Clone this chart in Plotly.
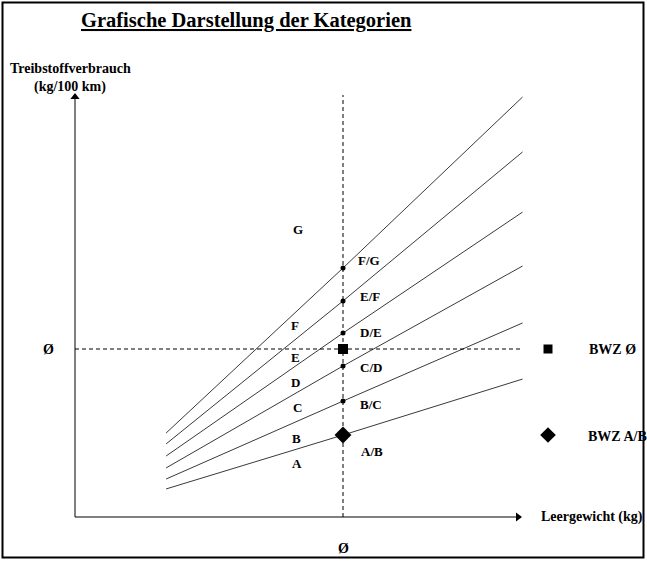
import plotly.graph_objects as go

# ---- data (abstract index units, Ø = 100) ----
boundaries = ["A/B", "B/C", "C/D", "D/E", "E/F", "F/G"]
categories = ["A", "B", "C", "D", "E", "F", "G"]
x_left, x_avg, x_right = 34, 100, 167
y_left = [16.7, 22.6, 29.2, 36.3, 43.5, 50.0]
y_avg_line = [48.8, 69.0, 89.9, 109.5, 128.6, 148.2]
y_right = [82.1, 115.5, 149.4, 181.5, 217.3, 250.0]
y_avg = 100
legend_labels = ["BWZ Ø", "BWZ A/B"]

# ---- layout helpers (pixel geometry) ----
W, H = 647, 561
OX, OY, SX, SY = 75, 517, 2.68, 1.68
def X(px): return (px - OX) / SX
def Y(py): return (OY - py) / SY

font = "Liberation Serif, Times New Roman, serif"
fig = go.Figure()

# boundary lines
for i, b in enumerate(boundaries):
    fig.add_trace(go.Scatter(x=[x_left, x_avg, x_right],
                             y=[y_left[i], y_avg_line[i], y_right[i]],
                             mode="lines", line=dict(color="#3a3a3a", width=1),
                             hoverinfo="skip", showlegend=False))

# dashed reference lines
fig.add_trace(go.Scatter(x=[x_avg, x_avg], y=[0, Y(95)], mode="lines",
                         line=dict(color="black", width=1, dash="4px,3px"), showlegend=False))
fig.add_trace(go.Scatter(x=[0, X(523)], y=[y_avg, y_avg], mode="lines",
                         line=dict(color="black", width=1, dash="4px,3px"), showlegend=False))

# axes
fig.add_trace(go.Scatter(x=[0, X(516)], y=[0, 0], mode="lines",
                         line=dict(color="black", width=1), showlegend=False))
fig.add_trace(go.Scatter(x=[0, 0], y=[0, Y(98)], mode="lines",
                         line=dict(color="black", width=1), showlegend=False))
fig.add_trace(go.Scatter(x=[X(518)], y=[0], mode="markers",
                         marker=dict(symbol="triangle-right", size=8, color="black"), showlegend=False))
fig.add_trace(go.Scatter(x=[0], y=[Y(97)], mode="markers",
                         marker=dict(symbol="triangle-up", size=8, color="black"), showlegend=False))

# intersection dots
fig.add_trace(go.Scatter(x=[x_avg] * (len(boundaries) - 1), y=y_avg_line[1:], mode="markers",
                         marker=dict(size=5, color="black"), showlegend=False))
# BWZ markers
fig.add_trace(go.Scatter(x=[x_avg], y=[y_avg], mode="markers",
                         marker=dict(symbol="square", size=10, color="black"), showlegend=False))
fig.add_trace(go.Scatter(x=[x_avg], y=[y_avg_line[0]], mode="markers",
                         marker=dict(symbol="diamond", size=13, color="black"), showlegend=False))
# legend markers
fig.add_trace(go.Scatter(x=[X(548)], y=[y_avg], mode="markers",
                         marker=dict(symbol="square", size=9, color="black"), showlegend=False))
fig.add_trace(go.Scatter(x=[X(548)], y=[y_avg_line[0]], mode="markers",
                         marker=dict(symbol="diamond", size=12, color="black"), showlegend=False))

ann = []
def txt(px, py, t, size=12, anchor="center"):
    ann.append(dict(x=X(px), y=Y(py), text=t, showarrow=False, xanchor=anchor, yanchor="middle",
                    font=dict(family=font, size=size, color="black")))

cat_pos = [(297, 463), (296, 438), (297, 407), (295, 382), (295, 357), (295, 325), (298, 229)]
for c, (px, py) in zip(categories, cat_pos):
    txt(px, py, "<b>%s</b>" % c, size=13)
bnd_pos = [(372, 451), (371, 404), (371, 367), (371, 332), (370, 296), (369, 260)]
for b, (px, py) in zip(boundaries, bnd_pos):
    txt(px, py, "<b>%s</b>" % b, size=13)

txt(587, 349, "<b>%s</b>" % legend_labels[0], size=14, anchor="left")
txt(586, 436, "<b>%s</b>" % legend_labels[1], size=14, anchor="left")
txt(539, 517, "<b>Leergewicht (kg)</b>", size=14, anchor="left")
txt(48, 349, "<b>Ø</b>", size=14)
txt(343, 548, "<b>Ø</b>", size=14)
txt(70, 68, "<b>Treibstoffverbrauch</b>", size=14)
txt(70, 87, "<b>(kg/100 km)</b>", size=14)
txt(79, 20, "<b><u>Grafische Darstellung der Kategorien</u></b>", size=20.5, anchor="left")

fig.update_layout(
    width=W, height=H, margin=dict(l=0, r=0, t=0, b=0),
    paper_bgcolor="white", plot_bgcolor="white", showlegend=False,
    xaxis=dict(range=[X(0), X(W)], visible=False, fixedrange=True),
    yaxis=dict(range=[Y(H), Y(0)], visible=False, fixedrange=True),
    annotations=ann,
    shapes=[dict(type="rect", xref="paper", yref="paper",
                 x0=2.5 / W, x1=(W - 3.5) / W, y0=3.5 / H, y1=1 - 2.5 / H,
                 line=dict(color="black", width=2))],
)
fig.write_html("out.html", config={"displayModeBar": False},
               post_script="document.body.style.margin='0';document.body.style.overflow='hidden';")
